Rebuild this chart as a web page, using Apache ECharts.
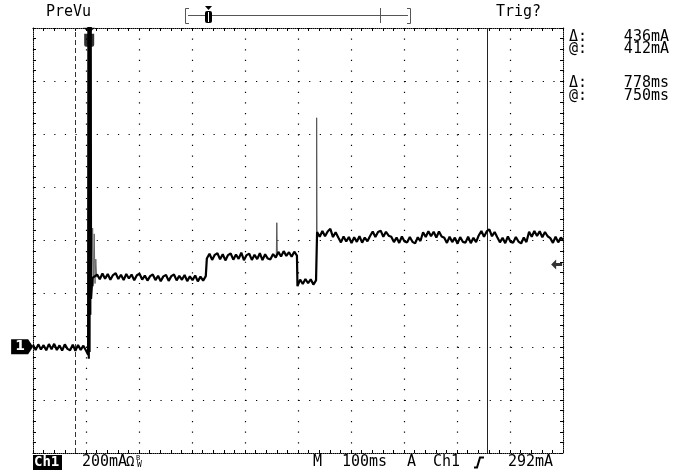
<!DOCTYPE html>
<html><head><meta charset="utf-8">
<script src="https://cdn.jsdelivr.net/npm/echarts@6/dist/echarts.min.js"></script>
<style>html,body{margin:0;padding:0;background:#fff}#c{width:675px;height:475px}</style>
</head><body><div id="c"></div>
<script>
// ---- axes (x: ms from left edge of screen, 100 ms/div; y: mA, 200 mA/div) ----
const timeMin = 0, timeMax = 1000, timeDiv = 100;
const currentMin = -400, currentMax = 1200, currentDiv = 200;
const sampleStepMs = 5;

// ---- trace (mA) ----
const segA_t0 = 0;
const segA = [8,-12,9,-10,6,-13,10,-9,11,-12,5,-14,9,-8,-13,8,-15,7,-12,4,-14];
const spikeMain = [[103,-14],[104,-30],[104.6,1500],[105.3,-45],[106,1500],[106.7,-20],[107.4,1500],[108.1,120],[108.8,1500],[109.5,180],[112,258]];
const ringing = [[109.5,180],[111,262],[112.5,447],[114,228],[115.5,425],[117,238],[118.5,330],[120,262],[121,268]];
const segB_t0 = 121;
const segB = [272,254,276,256,274,252,270,277,255,271,251,274,257,272,250,269,275,253,268,249,266,272,251,267,247,265,270,248,266,272,250,267,252,270,247,265,251,268,246,264,249,266];
const segC_t0 = 328;
const segC = [332,350,327,346,352,329,348,325,345,351,328,347,331,354,326,345,350,327,346,330,352,326,348,332,329,349,336,357,340,360,342,356,339,358,343];
const segD_t0 = 499;
const segD = [228,253,236,255,239,254,234,250];
const segE_t0 = 536;
const segE = [432,414,436,416,434,444,413,431,
  411,393,415,396,413,390,412,395,416,392,411,397,
  417,434,413,432,437,414,433,418,
  414,394,411,391,415,396,393,413,395,389,412,398,
  431,413,435,416,433,411,434,415,
  410,391,414,394,411,388,413,395,392,414,390,410,394,
  419,436,414,434,442,416,432,
  412,393,410,390,415,395,392,413,396,389,411,394,
  433,414,436,417,435,412,432,416,
  409,391,414,393,411];
const traceEnd = [[1000,402]];
const glitchC = [[459,340],[460,467],[461,347]];
const glitchE = [[535,248],[535.2,862],[535.8,425]];

// ---- cursors / markers ----
const cursorDashedMs = 79, cursorSolidMs = 857;
const triggerLevelMa = 310, triggerArrowMs = 988;
const triggerPosMs = 106, triggerIconMa = 1165;
const groundMarkMs = -20.5, groundMa = 0;

// ---- readout texts ----
const topLeftText = 'PreVu', topRightText = 'Trig?';
const readouts = [['Δ:', '436mA'], ['@:', '412mA'], ['Δ:', '778ms'], ['@:', '750ms']];
const bottomTexts = ['Ch1', '200mA', 'Ω', 'M', '100ms', 'A', 'Ch1', '292mA'];

function seg(t0, vals){ return vals.map((v,i)=>[t0 + i*sampleStepMs, v]); }
const trace = [].concat(seg(segA_t0,segA), spikeMain, seg(segB_t0,segB), seg(segC_t0,segC), seg(segD_t0,segD), seg(segE_t0,segE), traceEnd);

const chart = echarts.init(document.getElementById('c'), null, {renderer:'canvas', width:675, height:475});
const FONT = '"DejaVu Sans Mono", monospace';

function borderAxis(extra){
  return Object.assign({
    axisLine:{show:true, onZero:false, lineStyle:{color:'#000', width:1, type:[1,1]}},
    axisTick:{show:true, inside:true, length:3, lineStyle:{color:'#000'}},
    minorTick:{show:true, splitNumber:5, length:3, lineStyle:{color:'#000'}},
    axisLabel:{show:false},
    splitLine:{show:false}
  }, extra);
}
const dots = {show:true, lineStyle:{color:'#000', width:1.2, type:[1.2,9.42]}};

const txt = (text, x, y, o) => Object.assign({type:'text', x, y, silent:true,
  style:Object.assign({text, font:'15px ' + FONT, fill:'#000', align:'left', verticalAlign:'middle'}, o||{})});

const graphics = [
  txt(topLeftText, 46, 12),
  txt(topRightText, 496, 12),
  // record bar
  {type:'line', shape:{x1:188, y1:15.5, x2:408, y2:15.5}, style:{stroke:'#555', lineWidth:1}},
  {type:'polyline', shape:{points:[[189,8.5],[185.5,8.5],[185.5,23.5],[189,23.5]]}, style:{stroke:'#555', lineWidth:1, fill:null}},
  {type:'polyline', shape:{points:[[407,8.5],[410.5,8.5],[410.5,23.5],[407,23.5]]}, style:{stroke:'#555', lineWidth:1, fill:null}},
  {type:'line', shape:{x1:380.5, y1:8, x2:380.5, y2:23}, style:{stroke:'#555', lineWidth:1}},
  {type:'polygon', shape:{points:[[205,6],[212,6],[208.5,10]]}, style:{fill:'#000'}},
  {type:'rect', shape:{x:205, y:11, width:7, height:12, r:2}, style:{fill:'#000'}},
  {type:'line', shape:{x1:208.5, y1:12, x2:208.5, y2:22}, style:{stroke:'#fff', lineWidth:1}},
  // bottom status line
  {type:'rect', shape:{x:33, y:455, width:29, height:15}, style:{fill:'#000'}},
  txt(bottomTexts[0], 34, 462.5, {fill:'#fff', font:'bold 14px ' + FONT}),
  txt(bottomTexts[1], 82, 462),
  txt(bottomTexts[2], 126, 462, {font:'14px ' + FONT}),
  txt('B', 136, 458, {font:'7px ' + FONT}),
  txt('W', 137, 465, {font:'8px ' + FONT}),
  txt(bottomTexts[3], 313, 462),
  txt(bottomTexts[4], 342, 462),
  txt(bottomTexts[5], 407, 462),
  txt(bottomTexts[6], 433, 462),
  {type:'polyline', shape:{points:[[474,467.5],[477,467.5],[480,457.5],[484,457.5]]}, style:{stroke:'#000', lineWidth:2, fill:null}},
  txt(bottomTexts[7], 508, 462)
];
const readoutY = [37, 49, 83, 96];
readouts.forEach((r,i)=>{
  graphics.push(txt(r[0], 569, readoutY[i]));
  graphics.push(txt(r[1], 669, readoutY[i], {align:'right'}));
});

chart.setOption({
  animation:false,
  backgroundColor:'#fff',
  grid:{left:33, top:28, width:530, height:425, outerBoundsMode:'none', containLabel:false},
  xAxis:[
    borderAxis({type:'value', min:timeMin, max:timeMax, interval:timeDiv, position:'bottom', splitLine:dots}),
    borderAxis({type:'value', min:timeMin, max:timeMax, interval:timeDiv, position:'top'})
  ],
  yAxis:[
    borderAxis({type:'value', min:currentMin, max:currentMax, interval:currentDiv, position:'left', splitLine:dots}),
    borderAxis({type:'value', min:currentMin, max:currentMax, interval:currentDiv, position:'right'})
  ],
  graphic:graphics,
  series:[
    {type:'line', data:trace, symbol:'none', lineStyle:{color:'#000', width:2.2}, z:5,
     markLine:{silent:true, symbol:['none','none'], label:{show:false}, animation:false,
       data:[{xAxis:cursorDashedMs, lineStyle:{type:[5,3], color:'#333', width:1}},
             {xAxis:cursorSolidMs, lineStyle:{type:'solid', color:'#222', width:1}}]}},
    {type:'line', data:ringing, symbol:'none', lineStyle:{color:'#666', width:1}, z:4},
    {type:'line', data:glitchC, symbol:'none', lineStyle:{color:'#555', width:1}, z:4},
    {type:'line', data:glitchE, symbol:'none', lineStyle:{color:'#555', width:1}, z:4},
    {type:'scatter', clip:false, z:6, data:[[triggerArrowMs, triggerLevelMa]],
     symbol:'path://M0,5 L5,0 L5,3.5 L11,3.5 L11,6.5 L5,6.5 L5,10 Z', symbolSize:[11,10], itemStyle:{color:'#000'}},
    {type:'scatter', clip:false, z:6, data:[[triggerPosMs, triggerIconMa]],
     symbol:'path://M0,0 L12,0 L6,5 Z M1,6 L11,6 L11,17 Q11,19 9,19 L3,19 Q1,19 1,17 Z', symbolSize:[12,19], itemStyle:{color:'#000'}},
    {type:'scatter', clip:false, z:6, data:[[groundMarkMs, groundMa]],
     symbol:'path://M0,0 L17,0 L22,7.5 L17,15 L0,15 Z', symbolSize:[22,15], itemStyle:{color:'#000', opacity:1},
     label:{show:true, position:'inside', formatter:'1', color:'#fff', fontWeight:'bold', fontSize:14, fontFamily:'DejaVu Sans', offset:[-2,0]}}
  ]
});
</script></body></html>
